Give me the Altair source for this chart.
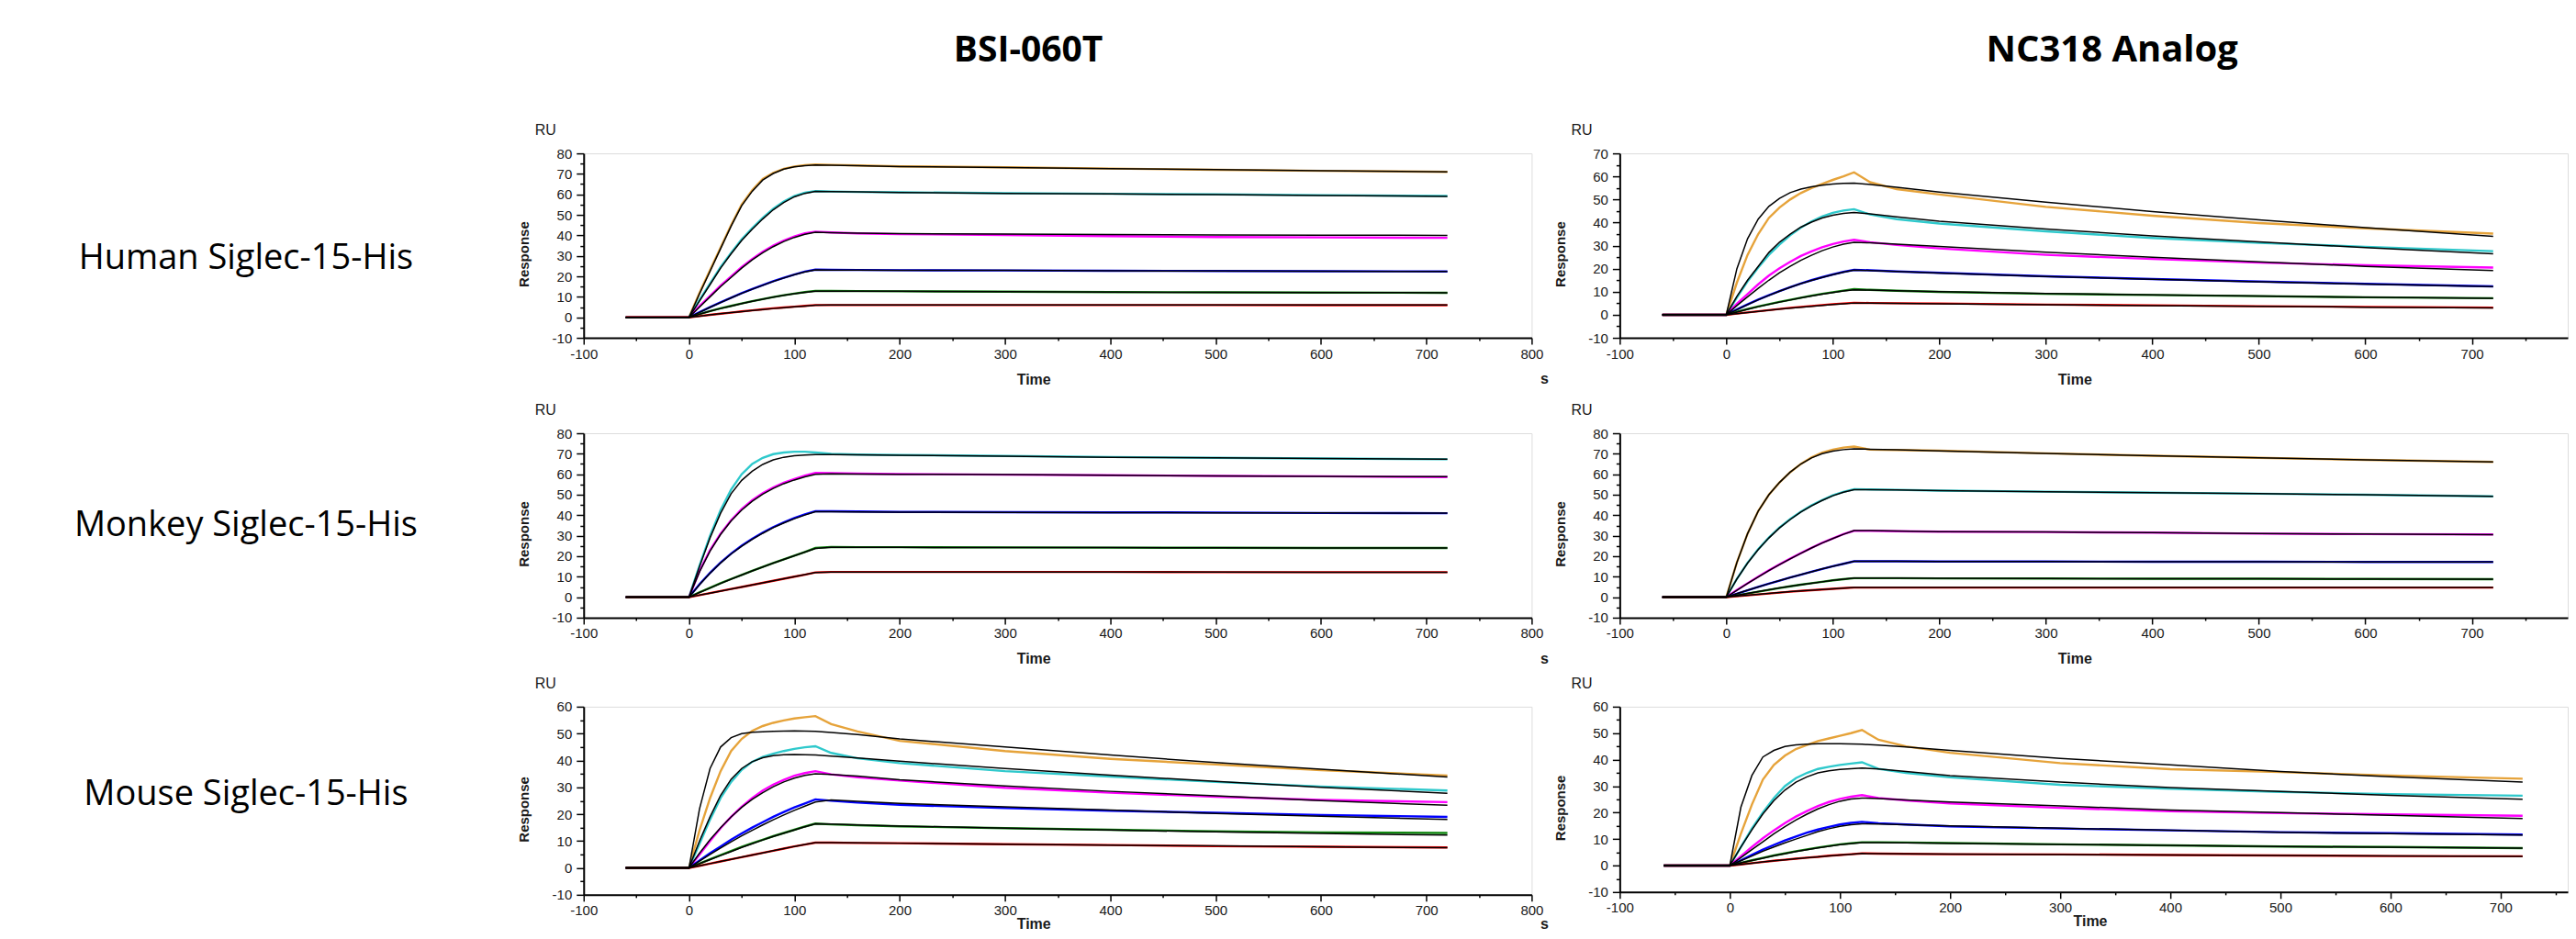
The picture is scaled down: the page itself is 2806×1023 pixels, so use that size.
import altair as alt
import pandas as pd

COL_TITLES = ["BSI-060T", "NC318 Analog"]
ROW_LABELS = ["Human Siglec-15-His", "Monkey Siglec-15-His", "Mouse Siglec-15-His"]
X_TICKS = list(range(-100, 801, 50))
TIME = [-60, 0, 10, 20, 30, 40, 50, 60, 70, 80, 90, 100, 110, 120, 135, 160, 200, 300, 400, 500, 600, 720]
SERIES_COLORS = {"gold": "#E6A33A", "cyan": "#2FC9CC", "magenta": "#FF00FF",
                 "blue": "#0000FF", "green": "#118811", "red": "#FF0000"}

# ---- BSI-060T / Human ----
BSI_HUMAN_DATA = {
    "gold": [0, 0, 12, 23, 34, 45, 55, 62, 67.5, 70.5, 72.5, 73.6, 74.3, 74.6, 74.4, 74.1, 73.7, 73.2, 72.6, 72, 71.5, 71],
    "cyan": [0, 0, 8.5, 16.5, 24.5, 31.5, 38, 43.5, 48.5, 53, 56.5, 59.2, 60.8, 61.6, 61.4, 61.2, 61, 60.6, 60.3, 60, 59.6, 59.2],
    "magenta": [0, 0, 5.5, 10.5, 15.5, 20, 24.5, 28.5, 32, 35, 37.5, 39.5, 41, 41.8, 41.4, 41, 40.6, 40.2, 39.6, 39.2, 39, 38.8],
    "blue": [0, 0, 2.5, 5, 7.3, 9.6, 11.8, 13.8, 15.7, 17.6, 19.3, 20.9, 22.3, 23.3, 23.2, 23.1, 23, 22.9, 22.7, 22.6, 22.5, 22.4],
    "green": [0, 0, 1.6, 3.1, 4.4, 5.6, 6.8, 7.9, 8.9, 9.9, 10.8, 11.6, 12.3, 12.9, 12.9, 12.8, 12.7, 12.5, 12.3, 12.2, 12.1, 12],
    "red": [0, 0, 0.6, 1.2, 1.8, 2.3, 2.9, 3.4, 3.9, 4.4, 4.8, 5.2, 5.6, 6, 6, 6, 6, 6, 6, 6, 5.9, 5.9],
}
BSI_HUMAN_FIT = {
    "gold": [0, 0, 11.5, 22.5, 33.5, 44.5, 54.5, 61.5, 67, 70.2, 72.3, 73.4, 74, 74.3, 74.2, 74, 73.6, 73.1, 72.6, 72.1, 71.6, 71],
    "cyan": [0, 0, 8, 16, 24, 31, 37.5, 43, 48, 52.5, 56, 58.8, 60.5, 61.5, 61.4, 61.2, 60.9, 60.5, 60.2, 59.9, 59.5, 59],
    "magenta": [0, 0, 5, 10, 15, 19.5, 24, 28, 31.5, 34.5, 37, 39, 40.5, 41.5, 41.3, 41.1, 40.9, 40.6, 40.4, 40.2, 40.1, 40],
    "blue": [0, 0, 2.4, 4.9, 7.2, 9.5, 11.7, 13.7, 15.6, 17.5, 19.2, 20.8, 22.2, 23.2, 23.1, 23.1, 23, 22.9, 22.7, 22.6, 22.5, 22.4],
    "green": [0, 0, 1.5, 3, 4.3, 5.5, 6.7, 7.8, 8.8, 9.8, 10.7, 11.5, 12.2, 12.8, 12.8, 12.8, 12.7, 12.5, 12.3, 12.2, 12.1, 12],
    "red": [0, 0, 0.6, 1.2, 1.8, 2.3, 2.8, 3.3, 3.8, 4.3, 4.7, 5.1, 5.5, 5.9, 6, 6, 6, 6, 6, 6, 6, 6],
}

# ---- NC318 Analog / Human ----
NC_HUMAN_DATA = {
    "gold": [0, 0, 14, 26, 35, 42, 46.5, 50, 52.8, 55, 56.8, 58.5, 60, 61.8, 57.5, 54.5, 52.2, 46.8, 43, 39.8, 37.5, 35.2],
    "cyan": [0, 0, 7.5, 14.5, 20.5, 26, 30.5, 34.5, 37.8, 40.5, 42.6, 44.2, 45.2, 45.8, 43.5, 41.5, 39.6, 36.2, 33.3, 31.2, 29.5, 27.6],
    "magenta": [0, 0, 4.8, 9, 13.2, 17, 20.2, 23, 25.5, 27.5, 29.3, 30.7, 31.8, 32.5, 31.5, 30.3, 28.8, 26, 24.2, 22.6, 21.5, 20.5],
    "blue": [0, 0, 2.3, 4.5, 6.6, 8.5, 10.3, 12, 13.6, 15, 16.3, 17.5, 18.6, 19.5, 19.3, 18.8, 18.2, 16.7, 15.5, 14.4, 13.4, 12.3],
    "green": [0, 0, 1.3, 2.5, 3.6, 4.6, 5.6, 6.5, 7.4, 8.3, 9.1, 9.8, 10.5, 11.1, 10.8, 10.4, 9.9, 9.1, 8.6, 8.1, 7.6, 7.2],
    "red": [0, 0, 0.5, 1, 1.5, 2, 2.5, 3, 3.4, 3.8, 4.2, 4.6, 4.9, 5.2, 5.1, 5, 4.9, 4.4, 4.1, 3.7, 3.4, 3.1],
}
NC_HUMAN_FIT = {
    "gold": [0, 0, 20, 33, 41.5, 47, 50.5, 53, 54.5, 55.5, 56.2, 56.7, 57, 57.1, 56.5, 55.3, 53.2, 48.8, 44.8, 41.2, 37.8, 34],
    "cyan": [0, 0, 8, 15, 21, 27, 31.5, 35, 38, 40.2, 42, 43.2, 44, 44.4, 43.8, 42.5, 40.6, 37.2, 34.2, 31.6, 29.1, 26.5],
    "magenta": [0, 0, 4, 7.8, 11.5, 15, 18.2, 21, 23.6, 25.8, 27.8, 29.4, 30.6, 31.4, 31.2, 30.6, 29.6, 27.1, 25, 23, 21, 19.2],
    "blue": [0, 0, 2.2, 4.4, 6.5, 8.4, 10.2, 11.9, 13.5, 14.9, 16.2, 17.4, 18.5, 19.4, 19.2, 18.8, 18.1, 16.6, 15.4, 14.3, 13.3, 12.2],
    "green": [0, 0, 1.2, 2.4, 3.5, 4.5, 5.5, 6.4, 7.3, 8.1, 8.9, 9.6, 10.3, 10.8, 10.7, 10.4, 10, 9.2, 8.6, 8.1, 7.6, 7.1],
    "red": [0, 0, 0.5, 1, 1.5, 2, 2.5, 2.9, 3.3, 3.7, 4.1, 4.5, 4.8, 5.1, 5.1, 5, 4.8, 4.4, 4, 3.7, 3.3, 3],
}

# ---- BSI-060T / Monkey ----
BSI_MONKEY_DATA = {
    "cyan": [0, 0, 15.5, 30, 42.5, 52.5, 60, 65, 68, 69.8, 70.6, 71, 71, 70.6, 69.9, 69.6, 69.4, 68.9, 68.4, 68, 67.7, 67.3],
    "magenta": [0, 0, 12.8, 23, 31, 37.6, 43, 47.3, 50.8, 53.6, 55.9, 57.7, 59.3, 60.7, 60.5, 60.3, 60.1, 59.8, 59.5, 59.2, 59, 58.6],
    "blue": [0, 0, 6.3, 11.9, 16.9, 21.3, 25.1, 28.5, 31.5, 34.2, 36.5, 38.6, 40.4, 42, 41.9, 41.8, 41.6, 41.5, 41.4, 41.3, 41.1, 41],
    "green": [0, 0, 2.4, 4.6, 6.8, 8.9, 10.9, 12.9, 14.8, 16.7, 18.5, 20.3, 22.1, 24, 24.5, 24.4, 24.4, 24.3, 24.2, 24.1, 24, 24],
    "red": [0, 0, 1, 2, 3, 4, 5, 6, 7, 8, 9, 10, 11, 12.1, 12.3, 12.3, 12.3, 12.3, 12.3, 12.2, 12.2, 12.2],
}
BSI_MONKEY_FIT = {
    "cyan": [0, 0, 15, 29, 41, 50.5, 57, 61.5, 64.8, 67, 68.3, 69, 69.4, 69.6, 69.6, 69.5, 69.3, 68.8, 68.3, 68, 67.7, 67.3],
    "magenta": [0, 0, 12.4, 22.5, 30.6, 37.2, 42.5, 46.8, 50.3, 53.1, 55.4, 57.2, 58.7, 60, 60.2, 60.1, 60, 59.8, 59.5, 59.2, 59, 58.8],
    "blue": [0, 0, 6.1, 11.7, 16.7, 21.1, 24.9, 28.2, 31.2, 33.9, 36.2, 38.3, 40.1, 41.7, 41.7, 41.6, 41.5, 41.4, 41.3, 41.2, 41.1, 41],
    "green": [0, 0, 2.3, 4.5, 6.7, 8.8, 10.8, 12.8, 14.7, 16.6, 18.4, 20.2, 22, 23.8, 24.3, 24.3, 24.3, 24.2, 24.2, 24.1, 24, 24],
    "red": [0, 0, 1, 2, 3, 4, 5, 6, 7, 8, 9, 10, 11, 12, 12.3, 12.3, 12.3, 12.3, 12.3, 12.3, 12.2, 12.2],
}

# ---- NC318 Analog / Monkey ----
NC_MONKEY_DATA = {
    "gold": [0, 0, 17, 31, 42, 50, 56, 61, 65, 68.2, 70.5, 72, 73, 73.5, 72, 71.8, 71.5, 70.2, 69, 68, 67, 66],
    "cyan": [0, 0, 9, 16.8, 23.4, 29.1, 34, 38.1, 41.7, 44.8, 47.4, 49.7, 51.4, 52.7, 52.6, 52.4, 52, 51.5, 51, 50.5, 50, 49.2],
    "magenta": [0, 0, 3.5, 6.8, 10, 13.1, 16, 18.8, 21.5, 24.1, 26.5, 28.7, 30.8, 32.4, 32.4, 32.2, 32, 31.8, 31.5, 31, 30.8, 30.6],
    "blue": [0, 0, 1.7, 3.4, 5, 6.6, 8.1, 9.6, 11, 12.4, 13.8, 15.1, 16.3, 17.5, 17.5, 17.5, 17.4, 17.4, 17.3, 17.3, 17.2, 17.2],
    "green": [0, 0, 0.9, 1.8, 2.7, 3.6, 4.5, 5.3, 6.1, 6.8, 7.5, 8.2, 8.8, 9.3, 9.3, 9.3, 9.2, 9.1, 9, 9, 8.9, 8.8],
    "red": [0, 0, 0.45, 0.9, 1.35, 1.8, 2.25, 2.7, 3.05, 3.4, 3.75, 4.1, 4.4, 4.7, 4.7, 4.7, 4.7, 4.7, 4.7, 4.7, 4.7, 4.7],
}
NC_MONKEY_FIT = {
    "gold": [0, 0, 17, 31, 42, 50, 56, 61, 65, 68, 70, 71.3, 72, 72.4, 72.2, 71.9, 71.4, 70.2, 69, 68, 67, 66],
    "cyan": [0, 0, 8.9, 16.6, 23.2, 28.9, 33.8, 37.9, 41.5, 44.6, 47.2, 49.5, 51.2, 52.5, 52.5, 52.3, 52, 51.5, 51, 50.5, 50, 49.2],
    "magenta": [0, 0, 3.4, 6.7, 9.9, 13, 15.9, 18.7, 21.4, 24, 26.4, 28.6, 30.7, 32.5, 32.5, 32.3, 32, 31.8, 31.5, 31.1, 30.8, 30.5],
    "blue": [0, 0, 1.7, 3.4, 5, 6.6, 8.1, 9.6, 11, 12.4, 13.8, 15.1, 16.3, 17.5, 17.5, 17.5, 17.4, 17.4, 17.3, 17.3, 17.2, 17.2],
    "green": [0, 0, 0.9, 1.8, 2.7, 3.6, 4.5, 5.3, 6.1, 6.8, 7.5, 8.2, 8.8, 9.3, 9.3, 9.3, 9.2, 9.1, 9, 9, 8.9, 8.8],
    "red": [0, 0, 0.45, 0.9, 1.35, 1.8, 2.25, 2.7, 3.05, 3.4, 3.75, 4.1, 4.4, 4.7, 4.7, 4.7, 4.7, 4.7, 4.7, 4.7, 4.7, 4.7],
}

# ---- BSI-060T / Mouse ----
BSI_MOUSE_DATA = {
    "gold": [0, 0, 14, 26, 36, 43.5, 48, 51, 52.8, 54, 54.9, 55.6, 56.1, 56.5, 53.5, 50.8, 47.3, 43.5, 40.6, 38.5, 36.4, 34.4],
    "cyan": [0, 0, 9, 18, 26, 32, 36.5, 39.5, 41.3, 42.5, 43.5, 44.3, 44.9, 45.3, 42.8, 40.8, 39, 36, 34, 32, 30.3, 28.8],
    "magenta": [0, 0, 5, 10, 14.8, 19, 22.8, 26, 28.8, 31, 32.8, 34.3, 35.3, 36, 34.8, 33.7, 32.5, 29.8, 28, 26.5, 25.3, 24.5],
    "blue": [0, 0, 2.8, 5.5, 8, 10.5, 12.8, 15, 17, 19, 20.8, 22.5, 24, 25.5, 25, 24.3, 23.5, 22.3, 21.3, 20.5, 19.7, 19],
    "green": [0, 0, 1.6, 3.2, 4.8, 6.3, 7.8, 9.2, 10.5, 11.8, 13, 14.2, 15.4, 16.5, 16.2, 15.9, 15.5, 14.8, 14.2, 13.6, 13.2, 13],
    "red": [0, 0, 0.8, 1.6, 2.4, 3.2, 4, 4.8, 5.6, 6.4, 7.2, 8, 8.7, 9.4, 9.4, 9.3, 9.2, 8.8, 8.5, 8.1, 7.9, 7.6],
}
BSI_MOUSE_FIT = {
    "gold": [0, 0, 22, 37, 45, 48.5, 50, 50.5, 50.7, 50.8, 50.9, 51, 50.9, 50.8, 50.4, 49.6, 48, 45, 42, 39.2, 36.7, 33.8],
    "cyan": [0, 0, 10, 19, 27, 33, 37, 39.5, 41, 41.8, 42.1, 42.2, 42.1, 42, 41.6, 40.9, 39.7, 37, 34.5, 32.2, 30, 27.8],
    "magenta": [0, 0, 5.5, 10.5, 15, 19, 22.5, 25.5, 28, 30.2, 32, 33.4, 34.4, 35, 34.8, 34.2, 32.8, 30.5, 28.5, 26.8, 25, 23.3],
    "blue": [0, 0, 2.5, 5, 7.4, 9.7, 11.9, 14, 16, 17.9, 19.7, 21.4, 23, 24.5, 25.3, 24.8, 24, 22.7, 21.5, 20.3, 19.2, 18],
    "green": [0, 0, 1.6, 3.1, 4.6, 6.1, 7.6, 9, 10.4, 11.7, 12.9, 14.1, 15.3, 16.4, 16.3, 16, 15.6, 14.8, 14.1, 13.4, 12.8, 12.2],
    "red": [0, 0, 0.8, 1.6, 2.4, 3.2, 4, 4.8, 5.6, 6.4, 7.2, 8, 8.7, 9.4, 9.4, 9.3, 9.2, 8.8, 8.5, 8.2, 7.9, 7.5],
}

# ---- NC318 Analog / Mouse ----
NC_MOUSE_DATA = {
    "gold": [0, 0, 12, 23, 32.5, 38, 41.5, 44, 45.5, 47, 48, 49, 50, 51.2, 47.5, 45, 42.6, 38.7, 36.4, 35.3, 34, 32.8],
    "cyan": [0, 0, 7, 14, 20, 25.5, 30, 33, 35, 36.5, 37.3, 38, 38.5, 39, 36.5, 35, 33.3, 30.5, 29, 27.8, 27, 26.4],
    "magenta": [0, 0, 3.5, 7, 10.3, 13.3, 16, 18.5, 20.6, 22.5, 24, 25.2, 26, 26.6, 25.5, 24.6, 23.5, 21.8, 20.5, 19.8, 19.3, 18.8],
    "blue": [0, 0, 2, 4, 6, 7.8, 9.5, 11, 12.4, 13.6, 14.6, 15.5, 16.1, 16.5, 16, 15.5, 14.8, 14, 13.3, 12.6, 12.2, 11.7],
    "green": [0, 0, 1, 2, 2.9, 3.8, 4.6, 5.4, 6.1, 6.8, 7.4, 8, 8.4, 8.8, 8.8, 8.7, 8.5, 8, 7.6, 7.2, 7, 6.6],
    "red": [0, 0, 0.45, 0.9, 1.35, 1.8, 2.2, 2.6, 3, 3.3, 3.7, 4, 4.3, 4.6, 4.5, 4.4, 4.3, 4.2, 4, 3.8, 3.6, 3.5],
}
NC_MOUSE_FIT = {
    "gold": [0, 0, 22, 34, 41, 43.5, 45, 45.6, 45.8, 46, 46, 46, 45.9, 45.8, 45.5, 44.8, 43.5, 40.5, 38, 35.5, 33.5, 31.5],
    "cyan": [0, 0, 7, 13.5, 19.5, 24.5, 28.5, 31.5, 33.5, 35, 35.8, 36.3, 36.6, 36.8, 36.5, 35.5, 34, 31.5, 29.5, 28, 26.5, 25],
    "magenta": [0, 0, 3, 6, 9, 12, 14.7, 17.2, 19.4, 21.4, 23, 24.3, 25.1, 25.5, 25.3, 24.8, 24, 22.5, 21, 20, 19, 17.8],
    "blue": [0, 0, 1.8, 3.6, 5.4, 7, 8.6, 10, 11.4, 12.8, 13.9, 14.8, 15.4, 15.8, 15.7, 15.4, 15, 14.1, 13.3, 12.6, 12, 11.5],
    "green": [0, 0, 1, 1.9, 2.8, 3.7, 4.5, 5.3, 6, 6.7, 7.3, 7.9, 8.3, 8.7, 8.7, 8.6, 8.4, 8, 7.6, 7.2, 6.9, 6.6],
    "red": [0, 0, 0.45, 0.9, 1.35, 1.8, 2.2, 2.6, 2.95, 3.3, 3.65, 3.95, 4.25, 4.55, 4.5, 4.4, 4.3, 4.15, 4, 3.8, 3.65, 3.5],
}

Y_MAX = [[80, 70], [80, 80], [60, 60]]
X_MAX = [[800, 790], [800, 790], [800, 761]]
PANELS = [[(BSI_HUMAN_DATA, BSI_HUMAN_FIT), (NC_HUMAN_DATA, NC_HUMAN_FIT)],
          [(BSI_MONKEY_DATA, BSI_MONKEY_FIT), (NC_MONKEY_DATA, NC_MONKEY_FIT)],
          [(BSI_MOUSE_DATA, BSI_MOUSE_FIT), (NC_MOUSE_DATA, NC_MOUSE_FIT)]]

FONT = "Liberation Sans"
TXT = "#1a1a1a"


def to_frame(curves):
    recs = []
    for name, vals in curves.items():
        for t, v in zip(TIME, vals):
            recs.append({"t": t, "v": v, "s": name})
    return pd.DataFrame(recs)


def panel(data, fit, ymax, xmax, width, height, show_s, title_y):
    xaxis = alt.Axis(
        values=[v for v in X_TICKS if v <= xmax],
        labelExpr="datum.value % 100 === 0 ? '' + datum.value : ''",
        tickSize={"condition": {"test": "datum.value % 100 === 0", "value": 7}, "value": 3},
        labelFlush=False, labelOverlap=False, grid=False,
        labelFont=FONT, labelFontSize=15, labelColor=TXT, labelPadding=3,
        domainColor="black", domainWidth=2, tickColor="black", tickWidth=1.5,
        title="Time", titleFont=FONT, titleFontSize=16, titleFontWeight="bold", titleColor=TXT,
        titleX=427 * width / (xmax + 100), titleY=title_y, titleAlign="center", titleBaseline="middle",
    )
    yaxis = alt.Axis(
        values=list(range(-10, ymax + 1, 5)),
        labelExpr="datum.value % 10 === 0 ? '' + datum.value : ''",
        tickSize={"condition": {"test": "datum.value % 10 === 0", "value": 8}, "value": 4},
        labelOverlap=False, grid=False, labelFlush=False,
        labelFont=FONT, labelFontSize=15, labelColor=TXT, labelPadding=5,
        domainColor="black", domainWidth=2, tickColor="black", tickWidth=1.5,
        title="Response", titleFont=FONT, titleFontSize=15, titleFontWeight="bold", titleColor=TXT,
        titleX=-65, titleY=height / 2 + 9, titleAngle=270, titleAlign="center", titleBaseline="middle",
    )
    xs = alt.Scale(domain=[-100, xmax], nice=False, zero=False)
    ys = alt.Scale(domain=[-10, ymax], nice=False, zero=False)
    color = alt.Color("s:N", scale=alt.Scale(domain=list(SERIES_COLORS), range=list(SERIES_COLORS.values())),
                      legend=None)
    dl = alt.Chart(to_frame(data)).mark_line(strokeWidth=2.4).encode(
        x=alt.X("t:Q", scale=xs, axis=xaxis), y=alt.Y("v:Q", scale=ys, axis=yaxis), color=color)
    fl = alt.Chart(to_frame(fit)).mark_line(strokeWidth=1.5, color="black").encode(
        x=alt.X("t:Q", scale=xs, axis=xaxis), y=alt.Y("v:Q", scale=ys, axis=yaxis), detail="s:N")
    layers = [dl, fl]
    if show_s:
        sl = alt.Chart(pd.DataFrame({"u": ["s"]})).mark_text(
            font=FONT, fontSize=16, fontWeight="bold", color=TXT, baseline="middle").encode(
            x=alt.value(width + 14), y=alt.value(height + title_y), text="u:N")
        layers.append(sl)
    return alt.layer(*layers).properties(
        width=width, height=height,
        title=alt.TitleParams(text="RU", anchor="start", frame="group", dx=-53, offset=10,
                              fontSize=16, fontWeight="normal", font=FONT, color=TXT),
    )


def text_cell(txt, width, height, size, weight, dx, dy):
    return alt.Chart(pd.DataFrame({"c": [txt]})).mark_text(
        font="Open Sans", fontSize=size, fontWeight=weight, color="black", dx=dx, dy=dy
    ).encode(text="c:N").properties(width=width, height=height)


LABEL_W = 532
GAP = 96
PW = 1033
ROW_H = [305, 298, 205]
PANEL_H = [[201, 201], [201, 201], [205, 202]]
LABEL_DY = [-38, -48, -6]
TITLE_Y = [45, 45, 32]

cells = [
    text_cell("", LABEL_W, 159, 10, "normal", 0, 0),
    text_cell(COL_TITLES[0], PW, 159, 39, "bold", -32, -33),
    text_cell(COL_TITLES[1], PW, 159, 40, "bold", 20, -33),
]
for r in range(3):
    cells.append(text_cell(ROW_LABELS[r], LABEL_W, ROW_H[r], 38, "normal", -6, LABEL_DY[r]))
    for c in range(2):
        d, f = PANELS[r][c]
        cells.append(panel(d, f, Y_MAX[r][c], X_MAX[r][c], PW, PANEL_H[r][c], c == 0, TITLE_Y[r]))

chart = alt.concat(*cells, columns=3, spacing={"row": 0, "column": GAP}, bounds="flush",
                   padding=0).configure_view(strokeWidth=0).configure(background="white")

chart.save("out.html", embed_options={"renderer": "svg", "actions": False})
